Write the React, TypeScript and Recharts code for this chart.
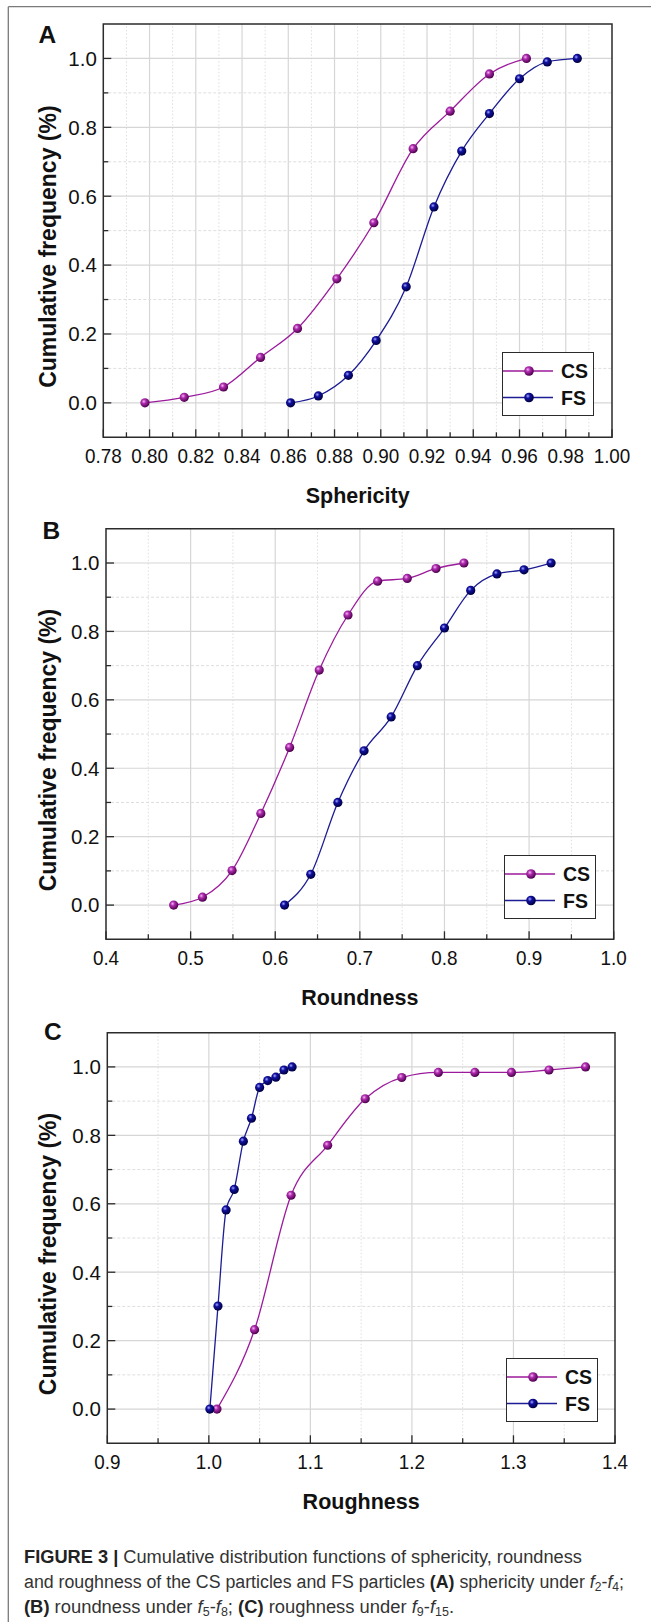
import React, { useLayoutEffect, useRef, useState } from 'react';
import { LineChart, Line, XAxis, YAxis, ReferenceLine, ReferenceArea, Legend } from 'recharts';

// ---------- DATA ----------
// Panel A – Sphericity
const sphCSx = [0.798, 0.815, 0.832, 0.848, 0.864, 0.881, 0.897, 0.914, 0.930, 0.947, 0.963];
const sphCSy = [0, 0.016, 0.046, 0.132, 0.216, 0.360, 0.523, 0.738, 0.847, 0.955, 1.0];
const sphFSx = [0.861, 0.873, 0.886, 0.898, 0.911, 0.923, 0.935, 0.947, 0.960, 0.972, 0.985];
const sphFSy = [0, 0.020, 0.080, 0.181, 0.337, 0.569, 0.731, 0.840, 0.941, 0.990, 1.0];
// Panel B – Roundness
const rndCSx = [0.480, 0.514, 0.549, 0.583, 0.617, 0.652, 0.686, 0.721, 0.756, 0.790, 0.823];
const rndCSy = [0, 0.023, 0.101, 0.268, 0.461, 0.687, 0.848, 0.947, 0.955, 0.984, 1.0];
const rndFSx = [0.611, 0.642, 0.674, 0.705, 0.737, 0.768, 0.800, 0.831, 0.862, 0.894, 0.926];
const rndFSy = [0, 0.090, 0.300, 0.451, 0.550, 0.700, 0.810, 0.920, 0.968, 0.980, 1.0];
// Panel C – Roughness
const rghCSx = [1.008, 1.045, 1.081, 1.117, 1.154, 1.190, 1.226, 1.262, 1.298, 1.335, 1.371];
const rghCSy = [0, 0.232, 0.625, 0.771, 0.907, 0.969, 0.984, 0.984, 0.984, 0.991, 1.0];
const rghFSx = [1.001, 1.009, 1.017, 1.025, 1.034, 1.042, 1.050, 1.058, 1.066, 1.074, 1.082];
const rghFSy = [0, 0.301, 0.582, 0.642, 0.783, 0.850, 0.940, 0.960, 0.970, 0.991, 1.0];

const seriesNames = ['CS', 'FS'];
const panelLetters = ['A', 'B', 'C'];
const xTitles = ['Sphericity', 'Roundness', 'Roughness'];
const yTitle = 'Cumulative frequency (%)';

// ---------- TICKS ----------
const yTicks = [0, 0.1, 0.2, 0.3, 0.4, 0.5, 0.6, 0.7, 0.8, 0.9, 1.0];
const yLabels = [0, 0.2, 0.4, 0.6, 0.8, 1.0];
const sphTicks = [0.78, 0.79, 0.80, 0.81, 0.82, 0.83, 0.84, 0.85, 0.86, 0.87, 0.88, 0.89, 0.90, 0.91, 0.92, 0.93, 0.94, 0.95, 0.96, 0.97, 0.98, 0.99, 1.00];
const sphLabels = [0.78, 0.80, 0.82, 0.84, 0.86, 0.88, 0.90, 0.92, 0.94, 0.96, 0.98, 1.00];
const rndTicks = [0.4, 0.45, 0.5, 0.55, 0.6, 0.65, 0.7, 0.75, 0.8, 0.85, 0.9, 0.95, 1.0];
const rndLabels = [0.4, 0.5, 0.6, 0.7, 0.8, 0.9, 1.0];
const rghTicks = [0.9, 0.95, 1.0, 1.05, 1.1, 1.15, 1.2, 1.25, 1.3, 1.35, 1.4];
const rghLabels = [0.9, 1.0, 1.1, 1.2, 1.3, 1.4];

const zip = (xs: number[], ys: number[]) => xs.map((x, i) => ({ x, y: ys[i] }));

// ---------- STYLE ----------
const FONT = '"Liberation Sans", Arial, Helvetica, sans-serif';
const FRAME = '#2b2b2b';
const CS_LINE = '#9c1a9c';
const FS_LINE = '#1c1c94';
const GRID_MAJOR = '#d6d6d6';
const GRID_MINOR = '#dedede';
const CHART_W = 651;
const CHART_H = 530;
const YAXIS_W = 60;
const XAXIS_H = 30;
const TICK_FS = 20.5;

type Pt = { x: number; y: number };
type Panel = {
  top: number;
  plot: { l: number; t: number; r: number; b: number };
  xDomain: [number, number];
  xTicks: number[];
  xLabels: number[];
  xDigits: number;
  cs: Pt[];
  fs: Pt[];
  legend: { left: number; top: number };
  letterPos: { x: number; y: number };
};

const panels: Panel[] = [
  {
    top: 0,
    plot: { l: 103.3, t: 24, r: 612, b: 437.3 },
    xDomain: [0.78, 1.0],
    xTicks: sphTicks,
    xLabels: sphLabels,
    xDigits: 2,
    cs: zip(sphCSx, sphCSy),
    fs: zip(sphFSx, sphFSy),
    legend: { left: 502, top: 352 },
    letterPos: { x: 38.5, y: 43 },
  },
  {
    top: 500,
    plot: { l: 106, t: 528.8, r: 613.7, b: 939.3 },
    xDomain: [0.4, 1.0],
    xTicks: rndTicks,
    xLabels: rndLabels,
    xDigits: 1,
    cs: zip(rndCSx, rndCSy),
    fs: zip(rndFSx, rndFSy),
    legend: { left: 504, top: 355 },
    letterPos: { x: 42.5, y: 538.5 },
  },
  {
    top: 1000,
    plot: { l: 107.3, t: 1032.7, r: 615, b: 1443.3 },
    xDomain: [0.9, 1.4],
    xTicks: rghTicks,
    xLabels: rghLabels,
    xDigits: 1,
    cs: zip(rghCSx, rghCSy),
    fs: zip(rghFSx, rghFSy),
    legend: { left: 506, top: 358 },
    letterPos: { x: 44, y: 1039.5 },
  },
];

const isIn = (arr: number[], v: number) => arr.some((a) => Math.abs(a - v) < 1e-6);

const labelWidth = (s: string, fs: number) =>
  s.split('').reduce((w, ch) => w + (ch === '.' ? 0.278 : 0.556), 0) * fs;

const makeXTick = (labels: number[], digits: number) => (props: any) => {
  const { x, y, payload } = props;
  const v = payload.value as number;
  const major = isIn(labels, v);
  const s = v.toFixed(digits);
  return (
    <g key={`xt-${v}`}>
      <line x1={x} x2={x} y1={y} y2={y - (major ? 8 : 5)} stroke={FRAME} strokeWidth={1.3} />
      {major && (
        <text
          x={x}
          y={y + 26}
          textAnchor="middle"
          fontSize={TICK_FS}
          fill="#111"
          fontFamily={FONT}
          textLength={labelWidth(s, TICK_FS) * 0.92}
          lengthAdjust="spacingAndGlyphs"
        >
          {s}
        </text>
      )}
    </g>
  );
};

const makeYTick = () => (props: any) => {
  const { x, y, payload } = props;
  const v = payload.value as number;
  const major = isIn(yLabels, v);
  return (
    <g key={`yt-${v}`}>
      <line x1={x} x2={x + (major ? 8 : 5)} y1={y} y2={y} stroke={FRAME} strokeWidth={1.3} />
      {major && (
        <text x={x - 6.5} y={y + 7.3} textAnchor="end" fontSize={TICK_FS} fill="#111" fontFamily={FONT}>
          {v.toFixed(1)}
        </text>
      )}
    </g>
  );
};

const makeDot = (gradId: string) => (props: any) => {
  const { cx, cy, index } = props;
  return <circle key={`d-${gradId}-${index}`} cx={cx} cy={cy} r={4.6} fill={`url(#${gradId})`} />;
};

const LegendBox = () => {
  const rows = [
    { name: seriesNames[0], color: CS_LINE, grad: 'gradCS', y: 19 },
    { name: seriesNames[1], color: FS_LINE, grad: 'gradFS', y: 45.5 },
  ];
  return (
    <div
      style={{
        width: 92,
        height: 64,
        border: `1.5px solid ${FRAME}`,
        background: '#fff',
        boxSizing: 'border-box',
        position: 'relative',
      }}
    >
      <svg width={92} height={64} style={{ position: 'absolute', left: -1.5, top: -1.5, overflow: 'visible' }}>
        {rows.map((r) => (
          <g key={r.name}>
            <line x1={1} x2={51} y1={r.y} y2={r.y} stroke={r.color} strokeWidth={1.3} />
            <circle cx={27} cy={r.y} r={4.8} fill={`url(#${r.grad})`} />
            <text x={59} y={r.y + 7} fontSize={19.5} fontWeight="bold" fill="#111" fontFamily={FONT}>
              {r.name}
            </text>
          </g>
        ))}
      </svg>
    </div>
  );
};

const PanelChart = ({ p, idx }: { p: Panel; idx: number }) => {
  const relT = p.plot.t - p.top;
  const relB = p.plot.b - p.top;
  const margin = {
    top: relT,
    left: p.plot.l - YAXIS_W,
    right: CHART_W - p.plot.r,
    bottom: CHART_H - relB - XAXIS_H,
  };
  const cx = (p.plot.l + p.plot.r) / 2;
  const yLabelCy = (relT + relB) / 2 + 16;
  return (
    <div style={{ position: 'absolute', left: 0, top: p.top, width: CHART_W, height: CHART_H }}>
      <LineChart width={CHART_W} height={CHART_H} margin={margin} style={{ overflow: 'visible' }}>
        {p.xTicks
          .filter((v) => v > p.xDomain[0] + 1e-6 && v < p.xDomain[1] - 1e-6)
          .map((v) => (
            <ReferenceLine
              key={`gx-${v}`}
              x={v}
              stroke={isIn(p.xLabels, v) ? GRID_MAJOR : GRID_MINOR}
              strokeWidth={isIn(p.xLabels, v) ? 1.2 : 1}
              strokeDasharray={isIn(p.xLabels, v) ? undefined : '1.5 2'}
              zIndex={-50}
            />
          ))}
        {yTicks.map((v) => (
          <ReferenceLine
            key={`gy-${v}`}
            y={v}
            stroke={isIn(yLabels, v) ? GRID_MAJOR : GRID_MINOR}
            strokeWidth={isIn(yLabels, v) ? 1.2 : 1}
            strokeDasharray={isIn(yLabels, v) ? undefined : '3 2'}
            zIndex={-50}
          />
        ))}
        <ReferenceArea
          x1={p.xDomain[0]}
          x2={p.xDomain[1]}
          y1={-0.1}
          y2={1.1}
          fill="none"
          fillOpacity={0}
          stroke={FRAME}
          strokeWidth={1.5}
        />
        <XAxis
          type="number"
          dataKey="x"
          domain={p.xDomain}
          ticks={p.xTicks}
          interval={0}
          height={XAXIS_H}
          axisLine={false}
          tickLine={false}
          tickSize={0}
          tickMargin={0}
          tick={makeXTick(p.xLabels, p.xDigits)}
          label={() => (
            <text
              x={cx}
              y={relB + 66}
              textAnchor="middle"
              fontSize={21.5}
              fontWeight="bold"
              fill="#111"
              fontFamily={FONT}
            >
              {xTitles[idx]}
            </text>
          )}
        />
        <YAxis
          type="number"
          domain={[-0.1, 1.1]}
          ticks={yTicks}
          interval={0}
          width={YAXIS_W}
          axisLine={false}
          tickLine={false}
          tickSize={0}
          tickMargin={0}
          tick={makeYTick()}
          label={() => (
            <text
              transform={`translate(48,${yLabelCy}) rotate(-90)`}
              textAnchor="middle"
              dy={8}
              fontSize={23}
              fontWeight="bold"
              fill="#111"
              fontFamily={FONT}
            >
              {yTitle}
            </text>
          )}
        />
        <Line
          data={p.cs}
          dataKey="y"
          name={seriesNames[0]}
          type="monotone"
          stroke={CS_LINE}
          strokeWidth={1.3}
          dot={makeDot('gradCS')}
          activeDot={false}
          isAnimationActive={false}
        />
        <Line
          data={p.fs}
          dataKey="y"
          name={seriesNames[1]}
          type="monotone"
          stroke={FS_LINE}
          strokeWidth={1.3}
          dot={makeDot('gradFS')}
          activeDot={false}
          isAnimationActive={false}
        />
        <Legend
          layout="vertical"
          verticalAlign="middle"
          align="center"
          content={() => <LegendBox />}
          wrapperStyle={{ left: p.legend.left, top: p.legend.top, width: 92, height: 64, right: 'auto', bottom: 'auto' }}
        />
      </LineChart>
    </div>
  );
};

const subStyle: React.CSSProperties = { fontSize: '0.68em', verticalAlign: '-0.28em', lineHeight: 0 };
const Fi = ({ n }: { n: string }) => (
  <>
    <i>f</i>
    <span style={subStyle}>{n}</span>
  </>
);

const CaptionLine = ({ top, target, children }: { top: number; target: number; children: React.ReactNode }) => {
  const ref = useRef<HTMLSpanElement>(null);
  const [k, setK] = useState(1);
  useLayoutEffect(() => {
    if (ref.current) {
      const w = ref.current.getBoundingClientRect().width;
      if (w > 0) setK(target / w);
    }
  }, [target]);
  return (
    <div
      style={{
        position: 'absolute',
        left: 24,
        top,
        whiteSpace: 'nowrap',
        fontSize: 18,
        lineHeight: '25px',
        height: 25,
        color: '#333',
        fontFamily: FONT,
        transformOrigin: '0 0',
        transform: `scaleX(${k})`,
      }}
    >
      <span ref={ref} style={{ display: 'inline-block' }}>
        {children}
      </span>
    </div>
  );
};

export default function App() {
  return (
    <div
      style={{
        position: 'absolute',
        left: 0,
        top: 0,
        width: 651,
        height: 1622,
        background: '#fff',
        overflow: 'hidden',
        fontFamily: FONT,
      }}
    >
      <svg width={651} height={1622} style={{ position: 'absolute', left: 0, top: 0 }}>
        <defs>
          <radialGradient id="gradCS" cx="38%" cy="35%" r="65%">
            <stop offset="0%" stopColor="#f4b8f4" />
            <stop offset="35%" stopColor="#b02cb0" />
            <stop offset="100%" stopColor="#4c004c" />
          </radialGradient>
          <radialGradient id="gradFS" cx="38%" cy="35%" r="65%">
            <stop offset="0%" stopColor="#a8a8ff" />
            <stop offset="35%" stopColor="#1010a0" />
            <stop offset="100%" stopColor="#000040" />
          </radialGradient>
        </defs>
        <line x1={8.3} x2={651} y1={6.7} y2={6.7} stroke="#7a7a7a" strokeWidth={1.3} />
        <line x1={8.3} x2={8.3} y1={6.7} y2={1622} stroke="#7a7a7a" strokeWidth={1.3} />
        {panels.map((p, i) => (
          <text
            key={panelLetters[i]}
            x={p.letterPos.x}
            y={p.letterPos.y}
            fontSize={24.5}
            fontWeight="bold"
            fill="#111"
            fontFamily={FONT}
          >
            {panelLetters[i]}
          </text>
        ))}
      </svg>
      {panels.map((p, i) => (
        <PanelChart key={i} p={p} idx={i} />
      ))}
      <CaptionLine top={1545.3} target={558}>
        <b style={{ color: '#222' }}>FIGURE 3 |</b> Cumulative distribution functions of sphericity, roundness
      </CaptionLine>
      <CaptionLine top={1570.3} target={600}>
        and roughness of the CS particles and FS particles <b style={{ color: '#222' }}>(A)</b> sphericity under{' '}
        <Fi n="2" />-<Fi n="4" />;
      </CaptionLine>
      <CaptionLine top={1595.3} target={430}>
        <b style={{ color: '#222' }}>(B)</b> roundness under <Fi n="5" />-<Fi n="8" />; <b style={{ color: '#222' }}>(C)</b>{' '}
        roughness under <Fi n="9" />-<Fi n="15" />.
      </CaptionLine>
    </div>
  );
}
